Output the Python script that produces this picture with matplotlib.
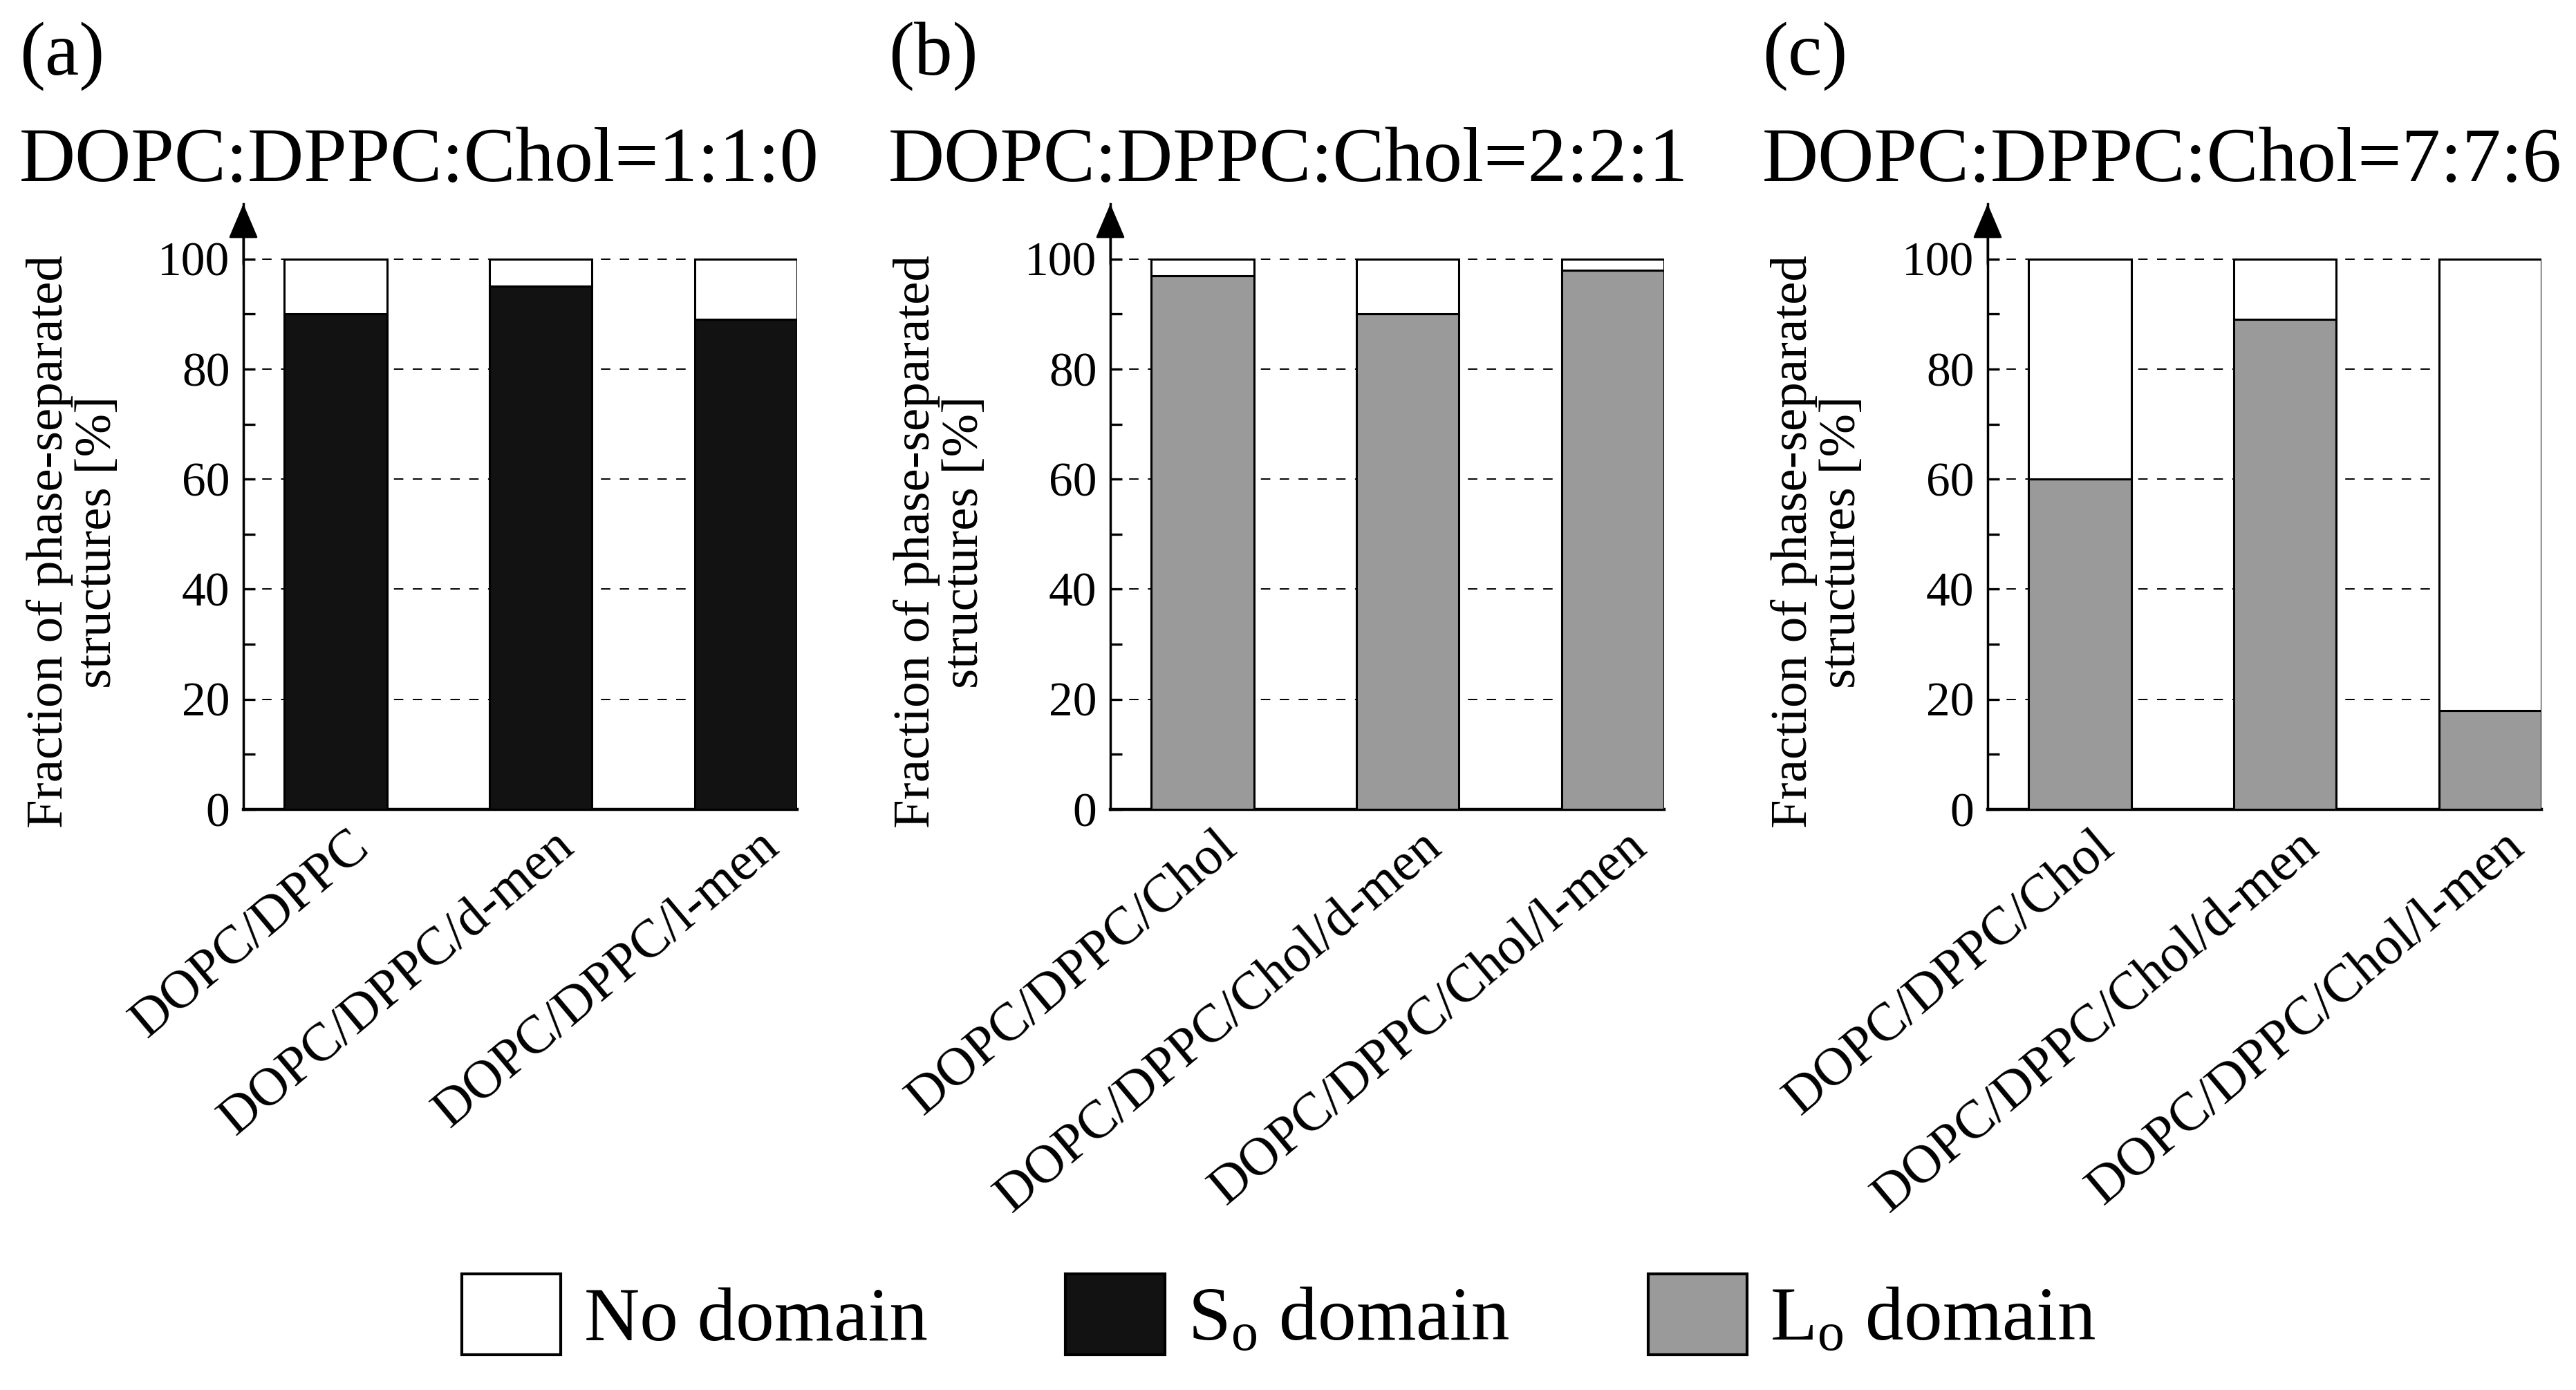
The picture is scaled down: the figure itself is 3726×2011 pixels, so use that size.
import matplotlib
matplotlib.use("Agg")
import matplotlib.pyplot as plt
from matplotlib.patches import Patch
from matplotlib.transforms import ScaledTranslation
from matplotlib.ticker import FixedLocator

plt.rcParams['font.family'] = ['Liberation Serif', 'DejaVu Serif']
plt.rcParams['mathtext.fontset'] = 'custom'
plt.rcParams['mathtext.rm'] = 'Liberation Serif'
plt.rcParams['mathtext.it'] = 'Liberation Serif:italic'

# ---- data ----
panel_tags = ["(a)", "(b)", "(c)"]
panel_titles = ["DOPC:DPPC:Chol=1:1:0", "DOPC:DPPC:Chol=2:2:1", "DOPC:DPPC:Chol=7:7:6"]
labels_a = ["DOPC/DPPC", "DOPC/DPPC/d-men", "DOPC/DPPC/l-men"]
labels_b = ["DOPC/DPPC/Chol", "DOPC/DPPC/Chol/d-men", "DOPC/DPPC/Chol/l-men"]
labels_c = ["DOPC/DPPC/Chol", "DOPC/DPPC/Chol/d-men", "DOPC/DPPC/Chol/l-men"]
domain_a = [90, 95, 89]   # So domain
domain_b = [97, 90, 98]   # Lo domain
domain_c = [60, 89, 18]   # Lo domain
nodomain_a = [10, 5, 11]
nodomain_b = [3, 10, 2]
nodomain_c = [40, 11, 82]
yticks = [0, 20, 40, 60, 80, 100]
yminor = [10, 30, 50, 70, 90]
ylabel = "Fraction of phase-separated\nstructures [%]"
legend_labels = ["No domain", "S$_\\mathrm{o}$ domain", "L$_\\mathrm{o}$ domain"]

c_white = "#ffffff"
c_so = "#121212"
c_lo = "#9a9a9a"

W, H = 3726, 2011
fig = plt.figure(figsize=(W / 100, H / 100), dpi=100)
fig.patch.set_facecolor("white")

lefts_px = [352, 1606, 2875]
tag_x_px = [28, 1285, 2549]
ax_bottom = 1 - 1171 / H
ax_height = (1171 - 295) / H
ax_width = 0.215

panels = [
    (labels_a, domain_a, nodomain_a, c_so),
    (labels_b, domain_b, nodomain_b, c_lo),
    (labels_c, domain_c, nodomain_c, c_lo),
]

for i, (labs, dom, nod, col) in enumerate(panels):
    left = lefts_px[i] / W
    ax = fig.add_axes([left, ax_bottom, ax_width, ax_height])
    x = list(range(len(labs)))
    ax.bar(x, dom, width=0.5, color=col, edgecolor="black", linewidth=2.2, zorder=3)
    ax.bar(x, nod, bottom=dom, width=0.5, color=c_white, edgecolor="black",
           linewidth=2.2, zorder=3)
    ax.set_xlim(-0.45, 2.25)
    ax.set_ylim(0, 110)
    ax.yaxis.set_major_locator(FixedLocator(yticks))
    ax.yaxis.set_minor_locator(FixedLocator(yminor))
    ax.grid(axis='y', which='major', color='black', linestyle=(0, (7, 7)),
            linewidth=1.4, zorder=0)
    ax.set_axisbelow(True)
    for s in ["top", "right"]:
        ax.spines[s].set_visible(False)
    ax.spines["left"].set_linewidth(2.5)
    ax.spines["bottom"].set_linewidth(3.2)
    ax.tick_params(axis='y', which='major', direction='in', length=12, width=2.4,
                   labelsize=50, pad=14)
    ax.tick_params(axis='y', which='minor', direction='in', length=12, width=2.4)
    for t in ax.yaxis.get_minor_ticks():
        if abs(t.get_loc() - 50) < 1e-6:
            t.tick1line.set_markersize(25)
    # arrow on top of y axis
    ax.annotate('', xy=(0, 1.0), xycoords='axes fraction', xytext=(0, 0.9),
                textcoords='axes fraction',
                arrowprops=dict(arrowstyle='-|>,head_length=0.4,head_width=0.17',
                                color='black', lw=2.0,
                                mutation_scale=80, shrinkA=0, shrinkB=0),
                annotation_clip=False)
    ax.set_xticks(x)
    ax.set_xticklabels(labs, rotation=40, ha='right', va='center',
                       rotation_mode='anchor', fontsize=56)
    ax.tick_params(axis='x', length=0, pad=0)
    off = ScaledTranslation(0.40, -0.45, fig.dpi_scale_trans)
    for lab in ax.get_xticklabels():
        lab.set_transform(lab.get_transform() + off)
    # y label
    fig.text(left - 245 / W, 1 - 784 / H, ylabel, rotation=90, ha='center',
             va='center', fontsize=54, multialignment='center', linespacing=1.05)
    # panel tag and title
    fig.text(tag_x_px[i] / W, 1 - 108 / H, panel_tags[i], fontsize=80,
             ha='left', va='baseline')
    fig.text(tag_x_px[i] / W, 1 - 262 / H, panel_titles[i], fontsize=81,
             ha='left', va='baseline')

handles = [Patch(facecolor=c_white, edgecolor='black', linewidth=3),
           Patch(facecolor=c_so, edgecolor='black', linewidth=3),
           Patch(facecolor=c_lo, edgecolor='black', linewidth=3)]
fig.legend(handles, legend_labels, loc='center', bbox_to_anchor=(0.4965, 0.054),
           ncol=3, frameon=False, fontsize=80, handlelength=1.29,
           handleheight=1.24, handletextpad=0.3, columnspacing=1.8)

fig.savefig("out.png", dpi=100, facecolor="white")
